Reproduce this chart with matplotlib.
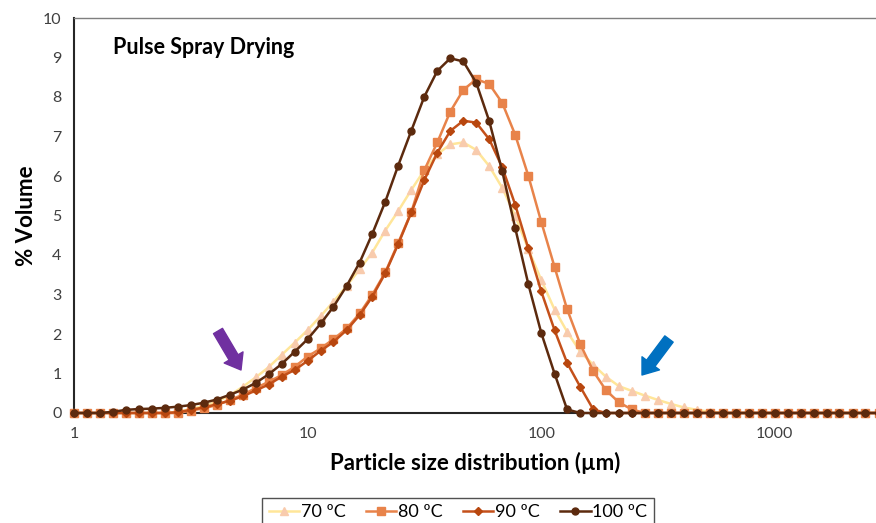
import matplotlib
matplotlib.use('Agg')
import matplotlib.pyplot as plt

# particle size classes (um)
sizes = [1.00, 1.14, 1.29, 1.47, 1.67, 1.89, 2.15, 2.44, 2.78, 3.16, 3.59, 4.08, 4.64,
         5.27, 5.99, 6.81, 7.74, 8.80, 10.0, 11.4, 12.9, 14.7, 16.7, 18.9, 21.5, 24.4,
         27.8, 31.6, 35.9, 40.8, 46.4, 52.7, 59.9, 68.1, 77.4, 88.0, 100, 114, 129, 147,
         167, 189, 215, 244, 278, 316, 359, 408, 464, 527, 599, 681, 774, 880, 1000,
         1140, 1290, 1470, 1670, 1890, 2150, 2440, 2780]

vol_70 = [0, 0, 0, 0, 0, 0, 0, 0,
          0.03, 0.10, 0.18, 0.28, 0.45, 0.66, 0.90, 1.16, 1.47, 1.78, 2.10, 2.46, 2.82,
          3.22, 3.64, 4.06, 4.62, 5.11, 5.65, 6.15, 6.55, 6.80, 6.85, 6.66, 6.25, 5.70,
          4.99, 4.15, 3.37, 2.62, 2.06, 1.55, 1.22, 0.92, 0.68, 0.56, 0.44, 0.33, 0.23,
          0.14, 0.08, 0.03,
          0, 0, 0, 0, 0, 0, 0, 0, 0, 0, 0, 0, 0]
vol_80 = [0, 0, 0, 0, 0, 0, 0, 0, 0,
          0.06, 0.12, 0.20, 0.33, 0.46, 0.63, 0.79, 0.96, 1.17, 1.43, 1.64, 1.87, 2.14,
          2.52, 2.99, 3.56, 4.30, 5.09, 6.15, 6.85, 7.63, 8.18, 8.45, 8.33, 7.85, 7.04,
          6.01, 4.84, 3.70, 2.63, 1.74, 1.06, 0.58, 0.27, 0.09,
          0, 0, 0, 0, 0, 0, 0, 0, 0, 0, 0, 0, 0, 0, 0, 0, 0, 0, 0]
vol_90 = [0, 0, 0, 0, 0, 0, 0, 0,
          0.02, 0.08, 0.14, 0.22, 0.31, 0.42, 0.57, 0.72, 0.92, 1.09, 1.32, 1.58, 1.80,
          2.10, 2.48, 2.94, 3.54, 4.27, 5.08, 5.90, 6.59, 7.14, 7.40, 7.35, 6.93, 6.22,
          5.27, 4.17, 3.08, 2.10, 1.27, 0.66, 0.09,
          0, 0, 0, 0, 0, 0, 0, 0, 0, 0, 0, 0, 0, 0, 0, 0, 0, 0, 0, 0, 0, 0]
vol_100 = [0, 0, 0, 0.03, 0.08, 0.10, 0.11, 0.13, 0.16, 0.20, 0.26, 0.34, 0.46, 0.59,
           0.76, 0.98, 1.24, 1.55, 1.87, 2.27, 2.69, 3.22, 3.81, 4.53, 5.35, 6.26, 7.15,
           8.01, 8.66, 8.98, 8.90, 8.36, 7.39, 6.12, 4.68, 3.27, 2.03, 1.00, 0.09,
           0, 0, 0, 0, 0, 0, 0, 0, 0, 0, 0, 0, 0, 0, 0, 0, 0, 0, 0, 0, 0, 0, 0, 0]

labels = ['70 ºC', '80 ºC', '90 ºC', '100 ºC']

FONT = 'Lato'
plt.rcParams['font.family'] = [FONT, 'DejaVu Sans']

fig = plt.figure(figsize=(8.76, 5.23), dpi=100)
ax = fig.add_axes([74 / 876, 1 - 413 / 523, 1 - 74 / 876, (413 - 18) / 523])

styles = [
    dict(color='#FFE699', marker='^', mfc='#F8CBAD', mec='#F8CBAD', ms=6),
    dict(color='#E8834A', marker='s', mfc='#E8834A', mec='#E8834A', ms=5.5),
    dict(color='#C4501A', marker='D', mfc='#B8470F', mec='#B8470F', ms=4),
    dict(color='#5C2A0E', marker='o', mfc='#5C2A0E', mec='#5C2A0E', ms=5),
]
series = [vol_70, vol_80, vol_90, vol_100]
for vals, lab, st in zip(series, labels, styles):
    ax.plot(sizes, vals, label=lab, lw=1.8, clip_on=False, zorder=3, **st)

ax.set_xscale('log')
ax.set_xlim(1, 2710)
ax.set_ylim(0, 10)
ax.set_yticks(range(0, 11))
ax.set_xticks([1, 10, 100, 1000])
ax.set_xticklabels(['1', '10', '100', '1000'])
ax.xaxis.set_minor_locator(matplotlib.ticker.NullLocator())
ax.tick_params(length=0, labelsize=11.5, labelcolor='#404040')
ax.tick_params(axis='x', pad=10)
ax.tick_params(axis='y', pad=9)

for s in ['left', 'bottom']:
    ax.spines[s].set_color('#262626')
    ax.spines[s].set_linewidth(1.5)
ax.spines['top'].set_color('#7F7F7F')
ax.spines['top'].set_linewidth(1.0)
ax.spines['right'].set_visible(False)
ax.spines['bottom'].set_zorder(2)

ax.set_xlabel('Particle size distribution (µm)', fontsize=16, fontweight='bold', labelpad=8)
ax.set_ylabel('% Volume', fontsize=16, fontweight='bold')
ax.yaxis.set_label_coords(-0.046, 0.5)

fig.text(113 / 876, 1 - 48 / 523, 'Pulse Spray Drying', fontsize=15.5,
         fontweight='bold', va='center', ha='left')

# arrows
ax.annotate('', xy=(241, 523 - 370), xytext=(218, 523 - 331), xycoords='figure pixels',
            textcoords='figure pixels',
            arrowprops=dict(arrowstyle='simple,head_length=0.7,head_width=1.05,tail_width=0.5',
                            color='#7030A0', mutation_scale=15, shrinkA=0, shrinkB=0))
ax.annotate('', xy=(642, 523 - 375), xytext=(669, 523 - 339), xycoords='figure pixels',
            textcoords='figure pixels',
            arrowprops=dict(arrowstyle='simple,head_length=0.7,head_width=1.05,tail_width=0.5',
                            color='#0070C0', mutation_scale=15, shrinkA=0, shrinkB=0))

leg = fig.legend(loc='upper center', bbox_to_anchor=(458 / 876, 1 - 489 / 523), ncol=4,
                 fontsize=13, frameon=True, fancybox=False, handlelength=1.7,
                 handletextpad=0.1, columnspacing=1.1, borderpad=0.35)
leg.get_frame().set_edgecolor('#262626')
leg.get_frame().set_linewidth(1.0)

fig.savefig('out.png', dpi=100)
